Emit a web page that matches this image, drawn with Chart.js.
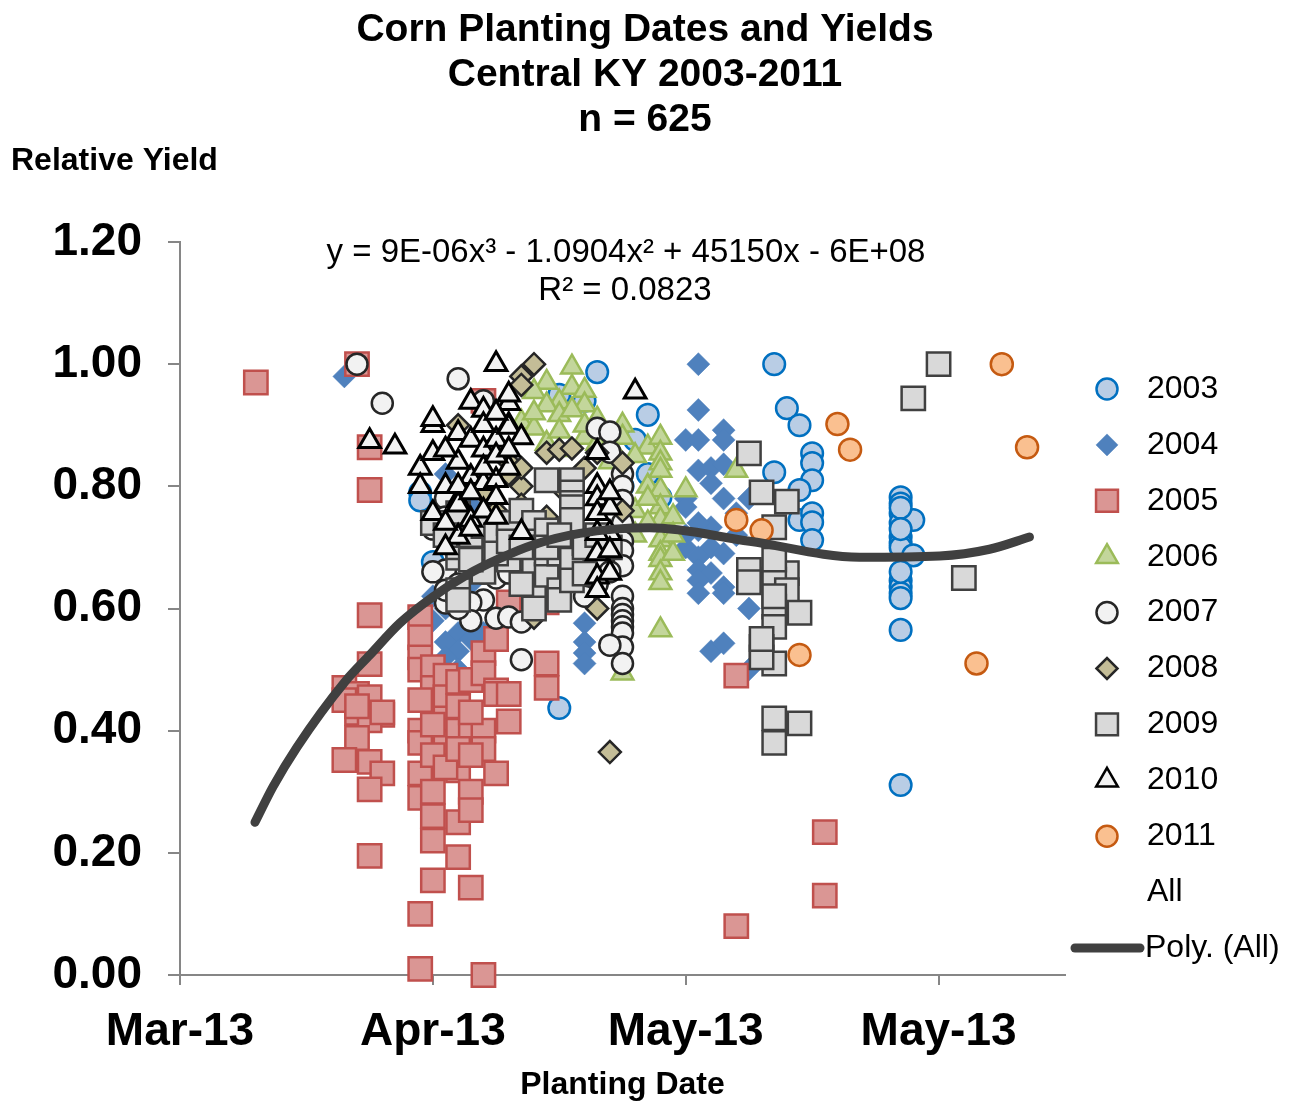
<!DOCTYPE html>
<html><head><meta charset="utf-8">
<script src="https://cdn.jsdelivr.net/npm/chart.js@4.4.0/dist/chart.umd.min.js"></script>
<style>html,body{margin:0;padding:0;background:#fff;}#wrap{width:1297px;height:1101px;}</style>
</head><body><div id="wrap"><canvas id="c" width="1297" height="1101"></canvas></div>
<script>
const FONT = "'Liberation Sans', Arial, Helvetica, sans-serif";
const titleLines = ['Corn Planting Dates and Yields', 'Central KY 2003-2011', 'n = 625'];
const yAxisLabel = 'Relative Yield';
const xAxisLabel = 'Planting Date';
const equationLines = ['y = 9E-06x\u00B3 - 1.0904x\u00B2 + 45150x - 6E+08', 'R\u00B2 = 0.0823'];
const xTickValues = [0, 20, 40, 60];
const xTickLabels = ['Mar-13', 'Apr-13', 'May-13', 'May-13'];
const years = ['2003', '2004', '2005', '2006', '2007', '2008', '2009', '2010', '2011'];

// x = days after the first axis tick, y = relative yield
const days2003 = [19,20,19,30,33,37,36,37,35,30, 32,47,48,49,50,50,50,47,49,49, 50,50,50,38,57,57,57,57,57,57, 57,57,57,57,57,57,57,58,58,57, 57,57];
const yield2003 = [0.79,0.676,0.777,0.437,0.987,0.917,0.876,0.82,0.80,0.95, 0.94,1.00,0.928,0.90,0.854,0.838,0.81,0.823,0.794,0.745, 0.756,0.741,0.712,0.782,0.782,0.772,0.756,0.74,0.717,0.707, 0.70,0.646,0.635,0.625,0.617,0.565,0.311,0.745,0.687,0.66, 0.765,0.73];

const days2004 = [13,21,23,21,20,21,22,21,22,23, 24,21,22,24,20,23,25,32,32,32, 32,41,41,40,41,43,43,41,42,43, 42,40,40,43,44,42,41,42,43,41, 41,42,41,41,43,43,45,42,43,45, 44,45,40,40,41];
const yield2004 = [0.98,0.82,0.77,0.707,0.58,0.60,0.56,0.545,0.53,0.55, 0.56,0.52,0.50,0.52,0.62,0.64,0.585,0.576,0.545,0.527, 0.51,1.00,0.925,0.876,0.876,0.892,0.876,0.826,0.83,0.836, 0.805,0.78,0.766,0.78,0.756,0.733,0.728,0.70,0.69,0.684, 0.663,0.658,0.646,0.625,0.635,0.625,0.60,0.53,0.543,0.50, 0.72,0.78,0.70,0.72,0.74];

const days2005 = [6,14,15,15,15,15,13,14,15,16, 14,15,14,13,15,16,15,15,19,19, 19,19,19,19,19,19,19,19,20,20, 20,20,20,20,21,21,21,21,21,22, 22,22,22,22,23,23,23,23,23,24, 24,24,24,24,25,25,25,25,26,26, 26,29,29,29,24,44,44,51,51,13, 14,16,20,21,22,23,20,22,19,23];
const yield2005 = [0.97,1.00,0.864,0.794,0.589,0.509,0.47,0.46,0.455,0.426, 0.429,0.417,0.388,0.352,0.349,0.33,0.304,0.195,0.586,0.553, 0.52,0.50,0.40,0.38,0.33,0.29,0.10,0.01,0.504,0.47, 0.30,0.26,0.22,0.155,0.49,0.455,0.42,0.365,0.38,0.48, 0.40,0.335,0.25,0.193,0.483,0.395,0.30,0.27,0.143,0.527, 0.494,0.40,0.37,0.0,0.55,0.466,0.46,0.33,0.46,0.415, 0.61,0.51,0.47,0.61,0.94,0.49,0.08,0.234,0.13,0.45, 0.44,0.43,0.36,0.34,0.37,0.36,0.41,0.44,0.45,0.43];

const days2006 = [31,29,31,28,30,32,29,32,30,31, 27,28,32,35,35,37,37,29,30,34, 33,36,38,38,38,38,38,38,38,38, 38,38,38,38,38,39,39,40,44,36, 36,37,37,39,28,33,35,30,32,34];
const yield2006 = [0.995,0.97,0.962,0.955,0.938,0.957,0.933,0.933,0.917,0.925, 0.905,0.895,0.88,0.90,0.88,0.864,0.80,0.87,0.86,0.84, 0.87,0.85,0.88,0.854,0.838,0.826,0.794,0.766,0.745,0.712, 0.69,0.68,0.658,0.642,0.565,0.75,0.69,0.794,0.826,0.76, 0.72,0.74,0.78,0.72,0.92,0.91,0.494,0.89,0.90,0.87];

const days2007 = [14,16,22,24,21,21,20,22,23,21, 24,25,26,24,25,26,27,27,28,21, 21,20,23,22,26,27,33,34,34,35, 35,35,35,35,35,35,35,35,35,35, 35,35,35,35,34,33,34,33,32,23, 24,22];
const yield2007 = [1.0,0.936,0.976,0.94,0.78,0.75,0.73,0.70,0.674,0.663, 0.658,0.65,0.658,0.614,0.584,0.586,0.578,0.516,0.647,0.609, 0.63,0.66,0.61,0.64,0.70,0.68,0.895,0.889,0.856,0.82, 0.80,0.777,0.74,0.71,0.695,0.67,0.62,0.60,0.59,0.58, 0.57,0.56,0.537,0.51,0.54,0.68,0.66,0.64,0.62,0.58, 0.69,0.60];

const days2008 = [28,27,27,29,30,31,35,32,22,26, 27,27,33,35,34,28,25,26,24,30, 33,29,31,27,25];
const yield2008 = [1.0,0.98,0.966,0.855,0.86,0.862,0.838,0.83,0.90,0.82, 0.80,0.77,0.60,0.76,0.365,0.585,0.87,0.84,0.79,0.80, 0.855,0.75,0.72,0.83,0.76];

const days2009 = [22,22,22,22,22,23,24,25,26,27, 28,28,28,28,28,29,29,29,29,30, 30,30,31,31,31,31,31,31,31,32, 32,32,33,34,24,26,27,45,46,48, 47,45,48,45,47,48,49,47,47,46, 47,46,47,49,47,47,47,46,60,58, 62,20,21,23,25,26,27,29,30];
const yield2009 = [0.756,0.683,0.63,0.614,0.70,0.72,0.735,0.72,0.74,0.76, 0.74,0.71,0.67,0.62,0.60,0.728,0.655,0.81,0.69,0.69, 0.63,0.614,0.68,0.646,0.81,0.79,0.773,0.766,0.745,0.707, 0.657,0.70,0.72,0.70,0.66,0.68,0.64,0.854,0.79,0.775, 0.733,0.663,0.658,0.643,0.647,0.63,0.593,0.603,0.57,0.537, 0.51,0.52,0.42,0.412,0.38,0.68,0.62,0.55,1.0,0.944, 0.65,0.74,0.72,0.68,0.69,0.71,0.70,0.70,0.72];

const days2010 = [15,17,19,19,20,20,25,23,20,24, 22,23,24,25,26,26,26,27,20,23, 24,25,26,22,25,22,23,24,25,22, 23,27,21,21,24,25,26,22,21,33, 33,33,33,34,34,33,33,34,33,34, 34,36,33,21,22,23,24,25,26];
const yield2010 = [0.874,0.865,0.83,0.80,0.756,0.90,1.0,0.938,0.91,0.925, 0.887,0.876,0.86,0.876,0.936,0.90,0.897,0.88,0.854,0.815, 0.805,0.81,0.83,0.777,0.782,0.77,0.745,0.76,0.75,0.717, 0.73,0.725,0.74,0.70,0.90,0.92,0.95,0.84,0.86,0.856, 0.80,0.78,0.756,0.765,0.723,0.723,0.69,0.695,0.652,0.658, 0.79,0.955,0.63,0.80,0.80,0.79,0.83,0.85,0.86];

const days2011 = [44,46,49,52,53,65,67,63];
const yield2011 = [0.745,0.728,0.524,0.902,0.86,1.0,0.864,0.51];

// polynomial trend line ("Poly. (All)")
const trendDays = [5.93,7.35,9.25,13.04,15.02,17.39,20.0,22.69,25.3,27.91,31.62,37.15,45.06,53.75,60.08,64.03,67.19];
const trendYield = [0.250,0.308,0.373,0.480,0.524,0.576,0.619,0.655,0.682,0.704,0.723,0.732,0.710,0.684,0.686,0.697,0.717];

const seriesDays = [days2003, days2004, days2005, days2006, days2007, days2008, days2009, days2010, days2011];
const seriesYield = [yield2003, yield2004, yield2005, yield2006, yield2007, yield2008, yield2009, yield2010, yield2011];

const markerStyles = [
  {pointStyle:'circle',   radius:10.8, bg:'rgb(185,205,229)', border:'rgb(0,112,192)',  bw:2.5, lr:10.5},
  {pointStyle:'rectRot',  radius:11.5, bg:'rgb(79,129,189)',  border:'rgb(79,129,189)', bw:0.5, lr:11},
  {pointStyle:'rect',     radius:16.5, bg:'rgb(218,150,148)', border:'rgb(192,80,77)',  bw:2.5, lr:15.5},
  {pointStyle:'triangle', radius:12.5, bg:'rgb(195,214,155)', border:'rgb(155,187,89)', bw:2.5, lr:12.5},
  {pointStyle:'circle',   radius:10.5, bg:'rgb(242,242,242)', border:'rgb(38,38,38)',   bw:2.5, lr:10.5},
  {pointStyle:'rectRot',  radius:11,   bg:'rgb(196,189,151)', border:'rgb(38,38,38)',   bw:2.5, lr:10.5},
  {pointStyle:'rect',     radius:16.5, bg:'rgb(217,217,217)', border:'rgb(64,64,64)',   bw:2.5, lr:15.5},
  {pointStyle:'triangle', radius:12.5, bg:'rgb(242,242,242)', border:'rgb(0,0,0)',      bw:3,   lr:12.5},
  {pointStyle:'circle',   radius:11,   bg:'rgb(250,192,144)', border:'rgb(197,90,17)',  bw:2.5, lr:10.5}
];

function toPoints(xs, ys) { return xs.map((x, i) => ({x: x, y: ys[i]})); }

const datasets = [];
datasets.push({
  type: 'line', label: 'Poly. (All)', data: toPoints(trendDays, trendYield),
  borderColor: 'rgb(64,64,64)', borderWidth: 9, pointRadius: 0, fill: false,
  cubicInterpolationMode: 'monotone', borderCapStyle: 'round', borderJoinStyle: 'round',
  order: 0, clip: false, isTrend: true
});
years.forEach((yr, i) => {
  const s = markerStyles[i];
  datasets.push({
    type: 'scatter', label: yr, data: toPoints(seriesDays[i], seriesYield[i]),
    pointStyle: s.pointStyle, pointRadius: s.radius, pointBackgroundColor: s.bg,
    pointBorderColor: s.border, pointBorderWidth: s.bw, showLine: false,
    order: 20 - i, clip: false, legendRadius: s.lr
  });
});
datasets.push({type: 'scatter', label: 'All', data: [], pointRadius: 0, order: 30});

function drawMarker(ctx, style, r, x, y) {
  ctx.beginPath();
  if (style === 'circle') {
    ctx.arc(x, y, r, 0, Math.PI * 2);
  } else if (style === 'rect') {
    const h = r * Math.SQRT1_2;
    ctx.rect(x - h, y - h, 2 * h, 2 * h);
  } else if (style === 'rectRot') {
    ctx.moveTo(x - r, y); ctx.lineTo(x, y - r); ctx.lineTo(x + r, y); ctx.lineTo(x, y + r);
  } else if (style === 'triangle') {
    ctx.moveTo(x, y - r);
    ctx.lineTo(x + r * Math.sin(2 * Math.PI / 3), y - r * Math.cos(2 * Math.PI / 3));
    ctx.lineTo(x + r * Math.sin(4 * Math.PI / 3), y - r * Math.cos(4 * Math.PI / 3));
  }
  ctx.closePath();
  ctx.fill();
  ctx.stroke();
}

const textPlugin = {
  id: 'textPlugin',
  afterDraw(chart) {
    const ctx = chart.ctx;
    ctx.save();
    ctx.fillStyle = '#000';
    ctx.textBaseline = 'middle';
    // title
    ctx.textAlign = 'center';
    ctx.font = 'bold 39px ' + FONT;
    titleLines.forEach((t, i) => ctx.fillText(t, 645, 30 + i * 45));
    // y-axis label
    ctx.textAlign = 'left';
    ctx.font = 'bold 32px ' + FONT;
    ctx.fillText(yAxisLabel, 11, 161);
    // trendline equation
    ctx.textAlign = 'center';
    ctx.font = '33px ' + FONT;
    ctx.fillText(equationLines[0], 626, 253);
    ctx.fillText(equationLines[1], 625, 291);
    // legend
    const legendItems = chart.data.datasets.filter(d => !d.isTrend).concat(chart.data.datasets.filter(d => d.isTrend));
    const x0 = 1107, tx = 1147, y0 = 389, dy = 55.9;
    legendItems.forEach((d, i) => {
      const y = y0 + i * dy;
      if (d.isTrend) {
        ctx.save();
        ctx.strokeStyle = d.borderColor; ctx.lineWidth = 9; ctx.lineCap = 'round';
        ctx.beginPath(); ctx.moveTo(1075, y); ctx.lineTo(1140, y); ctx.stroke();
        ctx.restore();
      } else if (d.pointRadius > 0) {
        ctx.save();
        ctx.fillStyle = d.pointBackgroundColor; ctx.strokeStyle = d.pointBorderColor;
        ctx.lineWidth = Math.min(d.pointBorderWidth, 2.5);
        drawMarker(ctx, d.pointStyle, d.legendRadius, x0, y);
        ctx.restore();
      }
      ctx.fillStyle = '#000';
      ctx.textAlign = 'left';
      ctx.font = '32px ' + FONT;
      ctx.fillText(d.label, d.isTrend ? 1145 : tx, y);
    });
    ctx.restore();
  }
};

new Chart(document.getElementById('c').getContext('2d'), {
  type: 'scatter',
  data: {datasets: datasets},
  options: {
    responsive: false,
    animation: false,
    events: [],
    layout: {padding: {top: 242, right: 232, left: 0, bottom: 0}},
    plugins: {legend: {display: false}, title: {display: false}, tooltip: {enabled: false}},
    scales: {
      x: {
        type: 'linear', min: 0, max: 70,
        afterBuildTicks: (s) => { s.ticks = xTickValues.map(v => ({value: v})); },
        afterFit: (s) => { s.height = 126; },
        ticks: {
          callback: (v) => { const i = xTickValues.indexOf(v); return i >= 0 ? xTickLabels[i] : ''; },
          font: {family: FONT, size: 46, weight: 'bold'}, color: '#000', padding: 20,
          maxRotation: 0, autoSkip: false
        },
        grid: {display: true, drawOnChartArea: false, drawTicks: true, tickLength: 10, color: '#868686', lineWidth: 2},
        border: {display: true, color: '#868686', width: 2},
        title: {display: true, text: xAxisLabel, color: '#000', font: {family: FONT, size: 32, weight: 'bold', lineHeight: 1}, padding: {top: 0, bottom: 0}}
      },
      y: {
        min: 0, max: 1.2,
        afterFit: (s) => { s.width = 180; },
        ticks: {
          stepSize: 0.2, callback: (v) => Number(v).toFixed(2),
          font: {family: FONT, size: 46, weight: 'bold'}, color: '#000', padding: 26
        },
        grid: {display: true, drawOnChartArea: false, drawTicks: true, tickLength: 12, color: '#868686', lineWidth: 2},
        border: {display: true, color: '#868686', width: 2}
      }
    }
  },
  plugins: [textPlugin]
});
</script>
</body></html>
